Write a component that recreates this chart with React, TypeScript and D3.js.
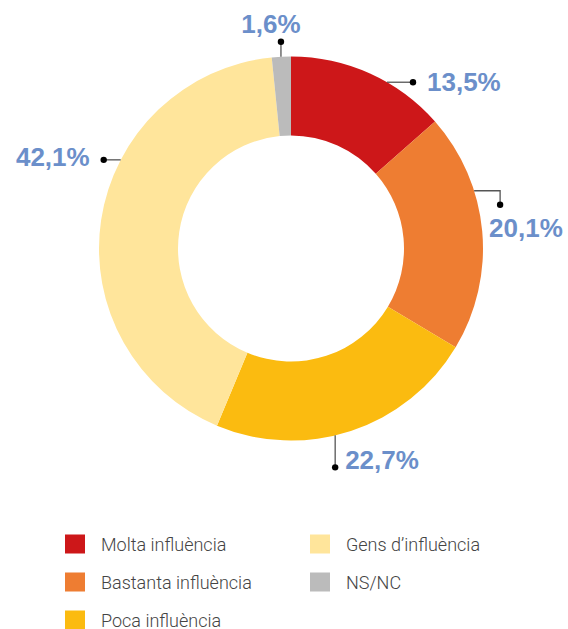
import * as d3 from 'd3';

const categories = ['Molta influència', 'Bastanta influència', 'Poca influència', 'Gens d’influència', 'NS/NC'];
const values = [13.5, 20.1, 22.7, 42.1, 1.6];
const labels = ['13,5%', '20,1%', '22,7%', '42,1%', '1,6%'];
const colors = ['#cd1719', '#ee7d32', '#fbbb10', '#ffe59b', '#bbbbbb'];

// leader layout: angle on the ring (deg from top), then a path of offsets to the dot, then label anchor
const leaders = [
  { angle: 30, steps: [[26, 0]], text: [14, 9], anchor: 'start' },
  { angle: 72.5, steps: [[26, 0], [0, 14]], text: [-11, 32], anchor: 'start' },
  { angle: 166.7, steps: [[0, 32]], text: [10, 2], anchor: 'start' },
  { angle: 297.5, steps: [[-17, 0]], text: [-14, 6], anchor: 'end' },
  { angle: 357, steps: [[0, -15]], text: [-10, -9], anchor: 'middle' },
];

const width = 568;
const height = 629;
const cx = 291;
const cy = 248.5;
const outerR = 192;
const innerR = 113;

export default function App() {
  const pie = d3.pie<number>().sort(null).value(d => d);
  const arcs = pie(values);
  const arc = d3.arc<d3.PieArcDatum<number>>().innerRadius(innerR).outerRadius(outerR);

  const legendX = d3.scalePoint<number>().domain([0, 1]).range([65, 310]);
  const legendY = d3.scalePoint<number>().domain([0, 1, 2]).range([534.5, 610.5]);
  const legendPos = (i: number) => (i < 3 ? { col: 0, row: i } : { col: 1, row: i - 3 });

  return (
    <svg width={width} height={height} style={{ position: 'absolute', left: 0, top: 0, background: '#fff' }}>
      <g transform={`translate(${cx},${cy})`}>
        {arcs.map((a, i) => (
          <path key={i} d={arc(a) ?? ''} fill={colors[i]} />
        ))}
      </g>

      {leaders.map((l, i) => {
        const rad = (l.angle * Math.PI) / 180;
        let x = cx + outerR * Math.sin(rad);
        let y = cy - outerR * Math.cos(rad);
        const pts: [number, number][] = [[x, y]];
        l.steps.forEach(([dx, dy]) => {
          x += dx;
          y += dy;
          pts.push([x, y]);
        });
        const line = d3.line()(pts) ?? '';
        return (
          <g key={i}>
            <path d={line} fill="none" stroke="#555" strokeWidth={1.3} />
            <circle cx={x} cy={y} r={3.2} fill="#000" />
            <text
              x={x + l.text[0]}
              y={y + l.text[1]}
              textAnchor={l.anchor as any}
              fontFamily="'Liberation Sans', Arial, sans-serif"
              fontWeight="bold"
              fontSize={26}
              fill="#6b8fca"
            >
              {labels[i]}
            </text>
          </g>
        );
      })}

      {categories.map((c, i) => {
        const p = legendPos(i);
        const x = legendX(p.col) ?? 0;
        const y = legendY(p.row) ?? 0;
        return (
          <g key={c}>
            <rect x={x} y={y} width={20} height={19} fill={colors[i]} />
            <text
              x={x + 36}
              y={y + 16.8}
              fontFamily="Roboto, 'Liberation Sans', sans-serif"
              fontWeight={300}
              fontSize={18}
              fill="#444"
            >
              {c}
            </text>
          </g>
        );
      })}
    </svg>
  );
}
